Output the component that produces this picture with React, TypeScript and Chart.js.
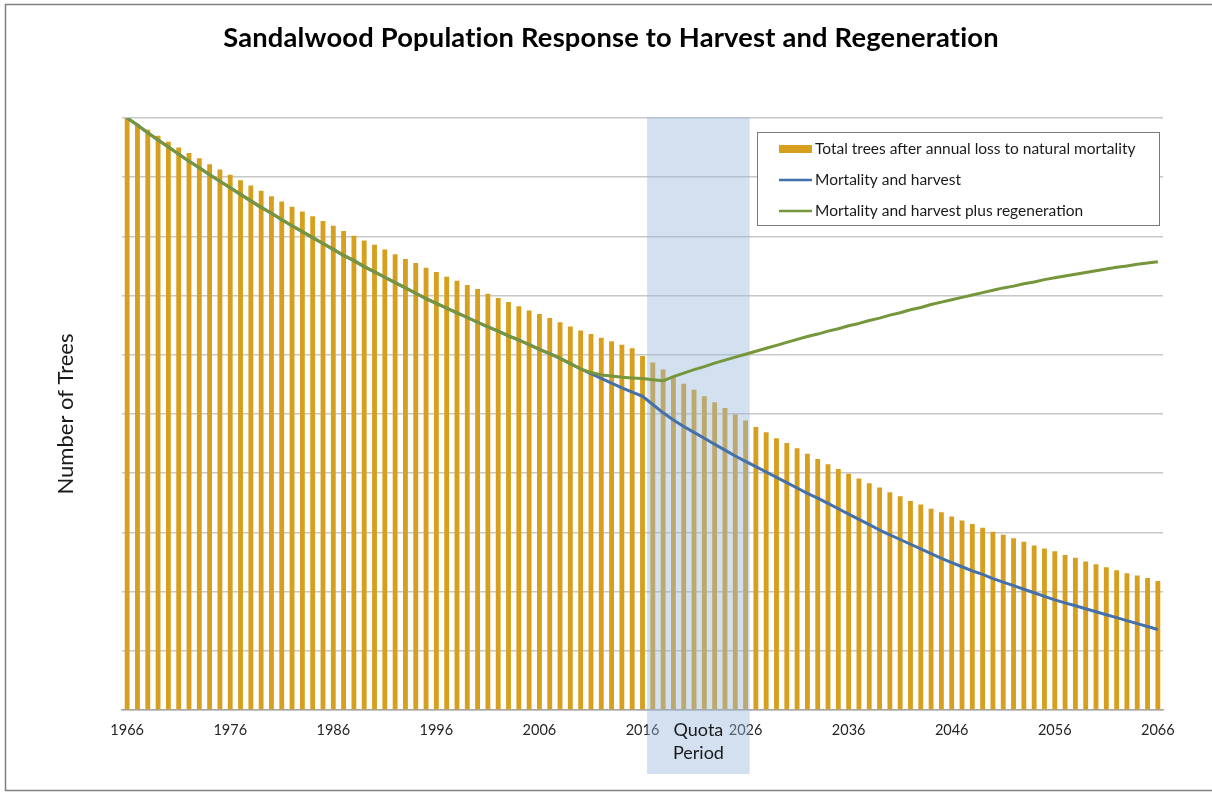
import React, { useEffect, useRef } from 'react';
import { Chart, registerables } from 'chart.js';

Chart.register(...registerables);

const FONT = 'Lato, "Open Sans", "DejaVu Sans", sans-serif';

const TITLE = 'Sandalwood Population Response to Harvest and Regeneration';
const Y_TITLE = 'Number of Trees';
const QUOTA_LINES = ['Quota', 'Period'];

const FIRST_YEAR = 1966;
const LAST_YEAR = 2066;
const years: string[] = [];
for (let y = FIRST_YEAR; y <= LAST_YEAR; y++) years.push(String(y));

const tickYears = ['1966', '1976', '1986', '1996', '2006', '2016', '2026', '2036', '2046', '2056', '2066'];

// Total trees after annual loss to natural mortality (1966..2066)
const naturalMortality = [
  100, 99.0, 98.0, 97.0, 96.0, 95.0, 94.1, 93.2, 92.2, 91.3,
  90.4, 89.5, 88.6, 87.7, 86.8, 85.9, 85.0, 84.2, 83.4, 82.6,
  81.8, 80.9, 80.1, 79.3, 78.6, 77.8, 77.0, 76.2, 75.5, 74.7,
  74.0, 73.2, 72.5, 71.8, 71.1, 70.3, 69.6, 68.9, 68.2, 67.5,
  66.9, 66.2, 65.5, 64.8, 64.1, 63.5, 62.9, 62.3, 61.7, 61.1,
  59.8, 58.7, 57.5, 56.3, 55.1, 54.1, 53.0, 52.0, 51.0, 49.9,
  48.9, 47.8, 46.9, 45.9, 45.1, 44.2, 43.3, 42.4, 41.5, 40.7,
  39.9, 39.1, 38.3, 37.6, 36.8, 36.1, 35.3, 34.7, 34.0, 33.4,
  32.7, 32.0, 31.4, 30.8, 30.1, 29.6, 29.0, 28.4, 27.8, 27.3,
  26.8, 26.2, 25.7, 25.1, 24.6, 24.1, 23.6, 23.1, 22.7, 22.3,
  21.8,
];

// Shared path of both line series, 1966..2010
const sharedDecline = [
  100.0, 98.8, 97.5, 96.3, 95.1, 93.9, 92.7, 91.6, 90.4, 89.3,
  88.2, 87.1, 86.0, 84.9, 83.9, 82.8, 81.8, 80.8, 79.8, 78.8,
  77.8, 76.8, 75.9, 74.9, 74.0, 73.1, 72.2, 71.3, 70.4, 69.5,
  68.7, 67.9, 67.1, 66.3, 65.5, 64.7, 64.0, 63.2, 62.5, 61.7,
  60.9, 60.2, 59.4, 58.5, 57.6,
];

// Mortality and harvest, 2011..2066
const harvestAfter2010 = [
  56.8, 56.0, 55.2, 54.4, 53.7,
  53.0, 51.6, 50.2, 49.0, 47.9, 46.9, 45.9, 44.9, 43.9, 42.9,
  42.0, 41.1, 40.2, 39.3, 38.4, 37.5, 36.6, 35.8, 34.9, 34.0,
  33.1, 32.2, 31.3, 30.4, 29.6, 28.8, 28.0, 27.2, 26.4, 25.6,
  24.9, 24.2, 23.5, 22.9, 22.2, 21.6, 21.0, 20.4, 19.8, 19.2,
  18.6, 18.1, 17.6, 17.1, 16.6, 16.1, 15.6, 15.1, 14.6, 14.1, 13.6,
];

// Mortality and harvest plus regeneration, 2011..2066
const regenAfter2010 = [
  57.0, 56.6, 56.4, 56.2, 56.1,
  56.0, 55.8, 55.6, 56.3, 56.9, 57.5, 58.0, 58.6, 59.1, 59.6,
  60.1, 60.6, 61.1, 61.6, 62.1, 62.6, 63.1, 63.5, 64.0, 64.4,
  64.9, 65.3, 65.8, 66.2, 66.7, 67.1, 67.6, 68.0, 68.5, 68.9,
  69.3, 69.7, 70.1, 70.5, 70.9, 71.3, 71.6, 72.0, 72.3, 72.7,
  73.0, 73.3, 73.6, 73.9, 74.2, 74.5, 74.8, 75.0, 75.3, 75.5, 75.7,
];

const harvestSeries = [...sharedDecline, ...harvestAfter2010];
const regenSeries = [...sharedDecline, ...regenAfter2010];

const quotaStart = 2016.45;
const quotaEnd = 2026.4;

const BAR_COLOR = '#D6A01E';
const BLUE = '#4470AC';
const GREEN = '#76963C';

const decorPlugin = {
  id: 'decor',
  beforeDraw(chart: any) {
    const ctx = chart.ctx;
    ctx.save();
    ctx.fillStyle = '#ffffff';
    ctx.fillRect(0, 0, chart.width, chart.height);
    ctx.strokeStyle = '#7f7f7f';
    ctx.lineWidth = 1.5;
    ctx.strokeRect(5.5, 4.5, chart.width + 10, 786);
    ctx.restore();
  },
  afterDatasetDraw(chart: any, args: any) {
    if (args.index !== 0) return;
    const ctx = chart.ctx;
    const xs = chart.scales.x;
    const left = xs.getPixelForValue(quotaStart - FIRST_YEAR);
    const right = xs.getPixelForValue(quotaEnd - FIRST_YEAR);
    const top = chart.chartArea.top - 1;
    const bottom = 774;
    ctx.save();
    ctx.fillStyle = 'rgba(150,180,220,0.42)';
    ctx.fillRect(left, top, right - left, bottom - top);
    ctx.restore();
  },
  afterDraw(chart: any) {
    const ctx = chart.ctx;
    const area = chart.chartArea;
    const xs = chart.scales.x;
    ctx.save();
    // Title
    ctx.fillStyle = '#000000';
    ctx.font = `bold 27.3px ${FONT}`;
    ctx.textAlign = 'center';
    ctx.textBaseline = 'middle';
    (ctx as any).letterSpacing = '0.2px';
    ctx.fillText(TITLE, 611, 38);
    (ctx as any).letterSpacing = '0px';

    // Y axis title
    ctx.save();
    ctx.translate(66, (area.top + area.bottom) / 2);
    ctx.rotate(-Math.PI / 2);
    ctx.font = `22px ${FONT}`;
    ctx.fillStyle = '#1a1a1a';
    ctx.fillText(Y_TITLE, 0, 0);
    ctx.restore();

    // Quota text
    const qLeft = xs.getPixelForValue(quotaStart - FIRST_YEAR);
    const qRight = xs.getPixelForValue(quotaEnd - FIRST_YEAR);
    ctx.font = `18px ${FONT}`;
    ctx.fillStyle = '#1a1a1a';
    ctx.fillText(QUOTA_LINES[0], (qLeft + qRight) / 2, 730);
    ctx.fillText(QUOTA_LINES[1], (qLeft + qRight) / 2, 753);

    // Legend
    const lx = 757, ly = 132, lw = 402, lh = 93;
    ctx.fillStyle = '#ffffff';
    ctx.fillRect(lx, ly, lw, lh);
    ctx.strokeStyle = '#7a7a7a';
    ctx.lineWidth = 1;
    ctx.strokeRect(lx + 0.5, ly + 0.5, lw, lh);
    const rows = [149, 180, 211];
    const ds = chart.data.datasets;
    ctx.textAlign = 'left';
    ctx.font = `15.5px ${FONT}`;
    rows.forEach((ry, i) => {
      const d = ds[i];
      if (i === 0) {
        ctx.fillStyle = d.backgroundColor;
        ctx.fillRect(779, ry - 4, 33, 8);
      } else {
        ctx.strokeStyle = d.borderColor;
        ctx.lineWidth = 2.5;
        ctx.beginPath();
        ctx.moveTo(779, ry);
        ctx.lineTo(812, ry);
        ctx.stroke();
      }
      ctx.fillStyle = '#1a1a1a';
      ctx.fillText(d.label, 815, ry);
    });
    ctx.restore();
  },
};

export default function App() {
  const ref = useRef<HTMLCanvasElement>(null);
  useEffect(() => {
    document.body.style.margin = '0';
    const canvas = ref.current!;
    const chart = new Chart(canvas, {
      type: 'bar',
      data: {
        labels: years,
        datasets: [
          {
            type: 'bar',
            label: 'Total trees after annual loss to natural mortality',
            data: naturalMortality,
            backgroundColor: BAR_COLOR,
            borderWidth: 0,
            barPercentage: 0.47,
            categoryPercentage: 1,
            order: 3,
          } as any,
          {
            type: 'line',
            label: 'Mortality and harvest',
            data: harvestSeries,
            borderColor: BLUE,
            backgroundColor: BLUE,
            borderWidth: 3,
            pointRadius: 0,
            tension: 0,
            borderJoinStyle: 'round',
            order: 2,
          } as any,
          {
            type: 'line',
            label: 'Mortality and harvest plus regeneration',
            data: regenSeries,
            borderColor: GREEN,
            backgroundColor: GREEN,
            borderWidth: 3,
            pointRadius: 0,
            tension: 0,
            borderJoinStyle: 'round',
            order: 1,
          } as any,
        ],
      },
      options: {
        responsive: false,
        animation: false,
        devicePixelRatio: 1,
        layout: { padding: { top: 118, right: 49, left: 0, bottom: 0 } },
        plugins: {
          legend: { display: false },
          title: { display: false },
          tooltip: { enabled: false },
        },
        scales: {
          x: {
            type: 'category',
            offset: true,
            grid: { display: false, drawTicks: false },
            border: { display: true, color: '#a6a6a6', width: 1.5 },
            ticks: {
              autoSkip: false,
              maxRotation: 0,
              minRotation: 0,
              padding: 12,
              color: '#262626',
              font: { family: FONT, size: 14.5 },
              callback: (_v: any, index: number) =>
                tickYears.includes(years[index]) ? years[index] : '',
            },
            afterFit: (s: any) => {
              s.height = 82;
            },
          },
          y: {
            min: 0,
            max: 100,
            ticks: { display: false, stepSize: 10 },
            grid: { color: '#c8c8c8', lineWidth: 1.5, drawTicks: false },
            border: { display: false },
            afterFit: (s: any) => {
              s.width = 122;
            },
          },
        },
      },
      plugins: [decorPlugin],
    });
    return () => chart.destroy();
  }, []);
  return (
    <canvas
      ref={ref}
      width={1212}
      height={792}
      style={{ display: 'block', width: 1212, height: 792 }}
    />
  );
}
